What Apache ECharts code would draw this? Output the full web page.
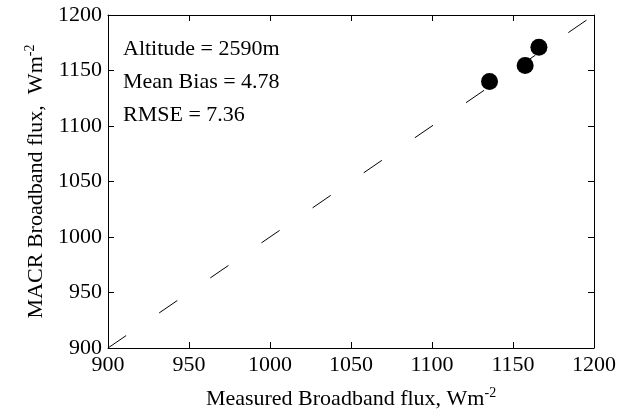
<!DOCTYPE html>
<html>
<head>
<meta charset="utf-8">
<script src="https://cdn.jsdelivr.net/npm/echarts@6/dist/echarts.min.js"></script>
<style>
  html, body { margin: 0; padding: 0; background: #fff; }
  #main { width: 619px; height: 415px; }
</style>
</head>
<body>
<div id="main"></div>
<script>
// measured vs MACR broadband flux
var measured = [1135.5, 1157.5, 1166];
var macr = [1140, 1154.5, 1171];
var oneToOne = [900, 1200];
var notes = ['Altitude = 2590m', 'Mean Bias = 4.78', 'RMSE = 7.36'];

var font = '"Liberation Serif", "Times New Roman", serif';
var chart = echarts.init(document.getElementById('main'));

var points = measured.map(function (v, i) { return [v, macr[i]]; });
var diag = oneToOne.map(function (v) { return [v, v]; });

function axis(pos, showLabel, name, nameGap, rotate) {
  return {
    type: 'value',
    position: pos,
    min: 900,
    max: 1200,
    interval: 50,
    name: name,
    nameLocation: 'middle',
    nameGap: nameGap,
    nameRotate: rotate,
    nameTextStyle: {
      color: '#000',
      fontFamily: font,
      rich: {
        a: { fontSize: 22, fontFamily: font, color: '#000', lineHeight: 26 },
        b: { fontSize: 14, fontFamily: font, color: '#000', verticalAlign: 'top', lineHeight: 26 }
      }
    },
    axisLine: { show: true, onZero: false, lineStyle: { color: '#000', width: 1 } },
    axisTick: { show: true, inside: true, length: 6, lineStyle: { color: '#000', width: 1 } },
    axisLabel: {
      show: showLabel, color: '#000', fontFamily: font, fontSize: 22, margin: 6,
      formatter: function (v) { return String(v); }
    },
    splitLine: { show: false }
  };
}

var option = {
  backgroundColor: '#fff',
  animation: false,
  grid: { left: 108, right: 22, top: 15, bottom: 66 },
  xAxis: [
    axis('bottom', true, '{a|Measured Broadband flux, Wm}{b|-2}', 38, 0),
    axis('top', false, '', 0, 0)
  ],
  yAxis: [
    axis('left', true, '{a|MACR Broadband flux,  Wm}{b|-2}', 58, 90),
    axis('right', false, '', 0, 0)
  ],
  graphic: notes.map(function (t, i) {
    return {
      type: 'text',
      left: 123,
      top: 38 + i * 33,
      style: { text: t, font: '22px ' + font, fill: '#000' }
    };
  }),
  series: [
    {
      type: 'line',
      data: diag,
      symbol: 'none',
      lineStyle: { color: '#000', width: 1, type: [22, 40] },
      z: 1
    },
    {
      type: 'scatter',
      data: points,
      symbol: 'circle',
      symbolSize: 17,
      itemStyle: { color: '#000', opacity: 1 },
      z: 2
    }
  ]
};
chart.setOption(option);
</script>
</body>
</html>
